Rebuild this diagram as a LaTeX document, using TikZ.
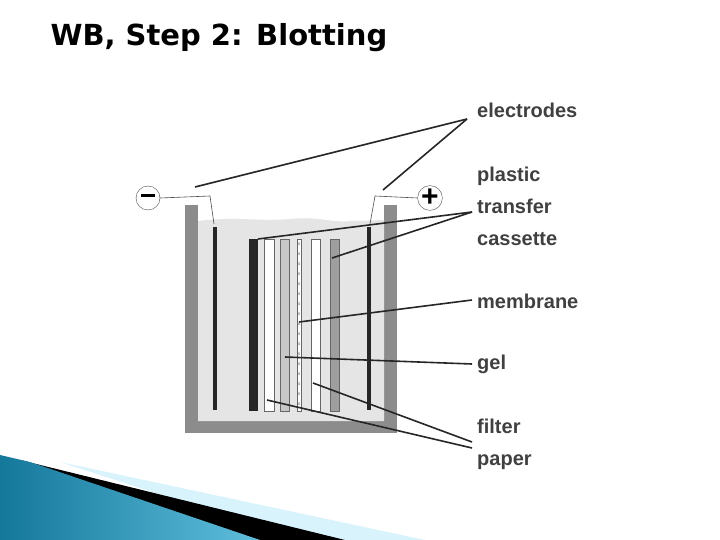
\documentclass[tikz,border=0pt]{standalone}
\usepackage{fontspec}
\setmainfont{Liberation Sans}
\newfontfamily\titlefont{DejaVu Sans}
\definecolor{swooshdark}{RGB}{20,120,155}
\definecolor{swooshlight}{RGB}{95,190,220}
\begin{document}
\begin{tikzpicture}[x=1pt,y=-1pt,
        lbl/.style={anchor=west,font=\fontsize{20}{32}\selectfont\bfseries,text=black!75,inner sep=0pt},
        pointer/.style={line width=1.6pt,black!85},
        wire/.style={line width=0.6pt,black!70},
        pole/.style={circle,draw=black!70,fill=white,minimum size=24pt,inner sep=0pt,font=\fontsize{30}{30}\selectfont\bfseries},
        strip/.style={draw=black!60,line width=0.5pt}]
        \useasboundingbox (0,0) rectangle (720,540);
        % background swoosh
        \fill[cyan!15!white] (60,462) -- (425,540) -- (300,540) -- cycle;
        \fill[black] (20,460) -- (345,540) -- (250,540) -- cycle;
        \shade[left color=swooshdark,right color=swooshlight] (0,455) -- (30,462) -- (260,540) -- (0,540) -- cycle;
        % title
        \node[anchor=west,font=\titlefont\fontsize{29}{30}\selectfont\bfseries] (title) at (47,38) {WB, Step 2: Blotting};
        % tank
        \fill[black!45] (185,205) rectangle (397,433);
        \fill[white] (198,205) rectangle (384,421);
        \fill[black!10] (198,221) .. controls (240,216) and (260,222) .. (290,219)
            .. controls (320,216) and (330,223) .. (350,221) -- (384,220) -- (384,421) -- (198,421) -- cycle;
        % electrodes
        \fill[black!85] (213,227) rectangle (217,410);
        \fill[black!85] (367,227) rectangle (371,410);
        % cassette and sandwich
        \fill[black!85] (249,239) rectangle (258,411);
        \draw[strip,fill=white] (264,239) rectangle (274,411);
        \draw[strip,fill=black!22] (280,239) rectangle (289,411);
        \draw[strip,fill=white] (297,239) rectangle (301,411);
        \foreach \y in {244,254,...,404}
            \node[font=\tiny,text=black!60,inner sep=0pt] at (299,\y) {x};
        \draw[strip,fill=white] (311,239) rectangle (320,411);
        \draw[strip,fill=black!38] (330,239) rectangle (339,411);
        % poles and wires
        \node[pole] (minus) at (148,198) {\rule[0.3ex]{14pt}{3.5pt}};
        \node[pole] (plus) at (430,198) {+};
        \draw[wire] (minus.east) -- (210,196) -- (214,224);
        \draw[wire] (plus.west) -- (375,196) -- (370,224);
        % labels
        \node[lbl] (electrodes) at (477,110) {electrodes};
        \node[lbl,align=left] (cassette) at (477,206) {plastic\\transfer\\cassette};
        \node[lbl] (membrane) at (477,301) {membrane};
        \node[lbl] (gel) at (477,364) {gel};
        \node[lbl,align=left] (filter) at (477,444) {filter\\paper};
        % pointers
        \draw[pointer] (467,119) -- (195,187);
        \draw[pointer] (467,119) -- (383,190);
        \draw[pointer] (472,212) -- (258,239);
        \draw[pointer] (472,212) -- (332,258);
        \draw[pointer] (472,300) -- (299,322);
        \draw[pointer] (472,364) -- (285,357);
        \draw[pointer] (472,442) -- (313,383);
        \draw[pointer] (472,448) -- (267,400);
\end{tikzpicture}
\end{document}
